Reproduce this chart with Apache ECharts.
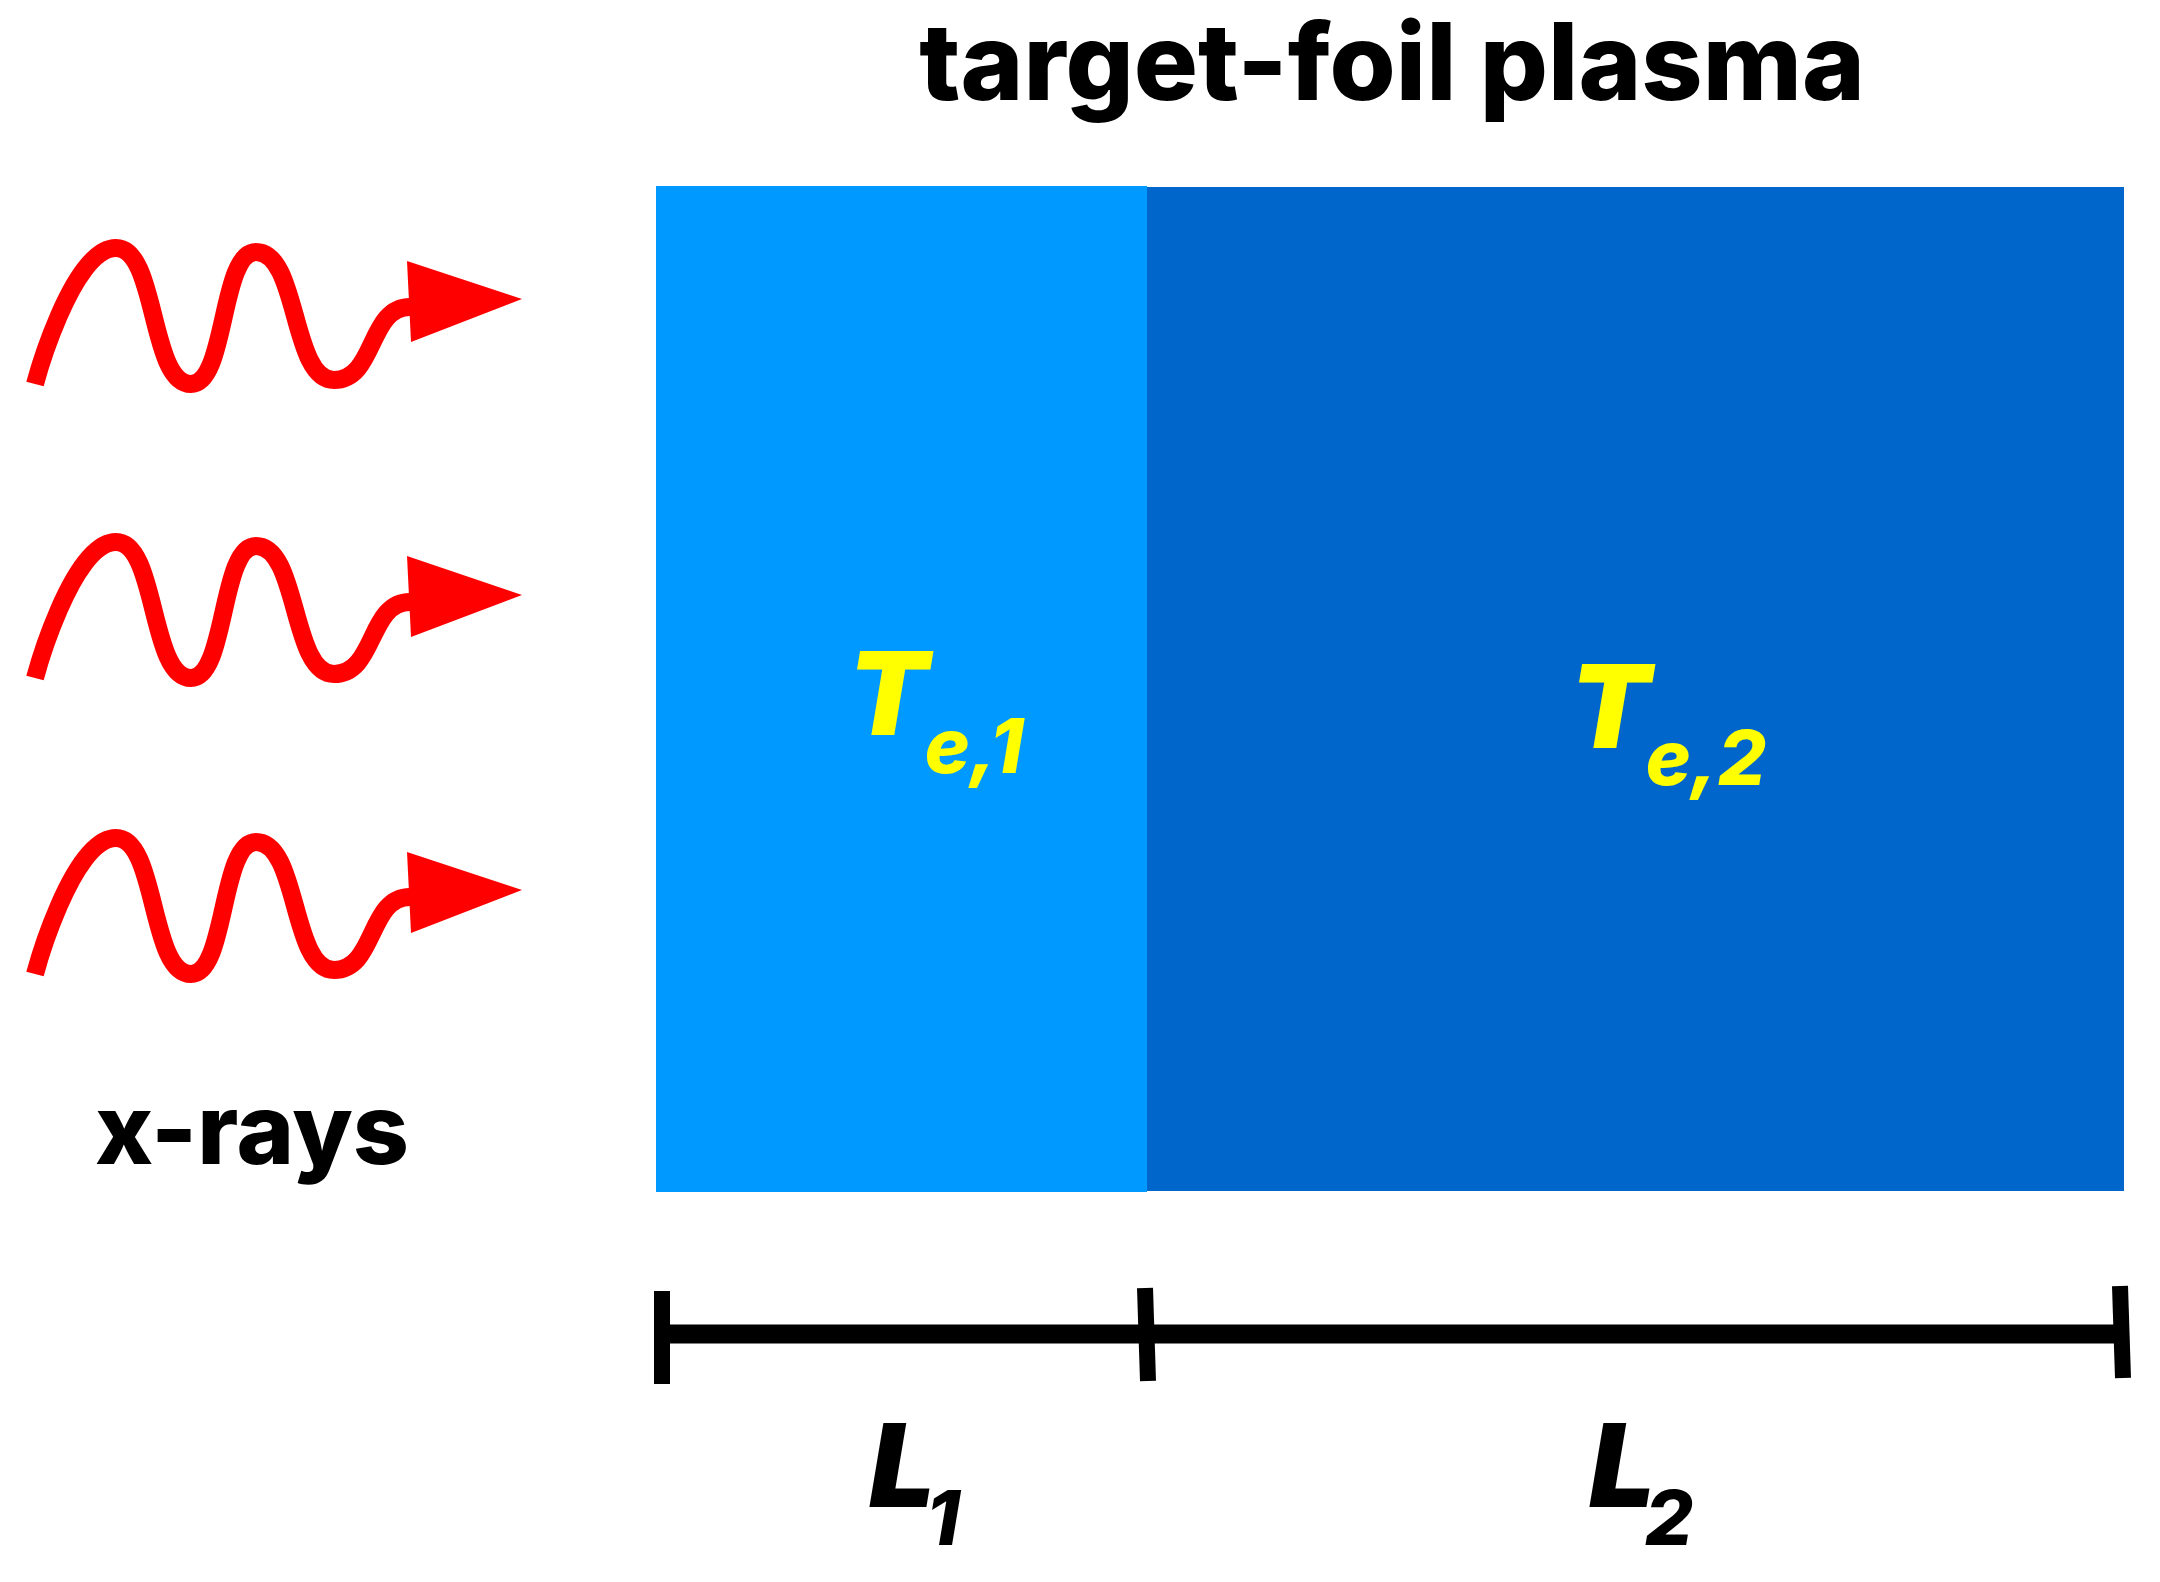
<!DOCTYPE html>
<html>
<head>
<meta charset="utf-8">
<script src="https://cdn.jsdelivr.net/npm/echarts@6/dist/echarts.min.js"></script>
<style>
  html, body { margin: 0; padding: 0; background: #fff; }
  #main { width: 2160px; height: 1582px; }
</style>
</head>
<body>
<div id="main"></div>
<script>
// wave x-ray lines: start, crests, troughs, shoulder, end (axis units = image pixels)
var waveX = [35, 116, 191, 256, 334, 410, 420];
var waveTop = [384, 248, 384, 252, 380, 307, 305];
var waveMid = [678, 542, 678, 546, 674, 602, 600];
var waveLow = [974, 838, 974, 842, 970, 897, 895];

// arrow heads: back top, tip, back bottom
var arrowX = [407, 522, 411];
var arrowTop = [261, 299, 342];
var arrowMid = [556, 595, 637];
var arrowLow = [852, 890, 933];

// plasma layers
var layerStart = [656, 1147];
var layerEnd = [1147, 2124];
var layerTop = [186, 187];
var layerBottom = [1192, 1191];
var layerColor = ['#0099ff', '#0066cc'];

// length scale bar
var barX = [664, 2122];
var barY = [1334, 1334];
var tickTopX = [662, 1145, 2120];
var tickBottomX = [662, 1148, 2123];
var tickTopY = [1291, 1288, 1286];
var tickBottomY = [1384, 1381, 1378];

// text labels
var labelText = ['target-foil plasma', 'x-rays', 'T', 'e,1', 'T', 'e,2', 'L', '1', 'L', '2'];
var labelX = [1392, 252, 888, 974, 1610, 1706, 902, 943, 1622, 1669];
var labelY = [68, 1135, 700, 750, 713, 762, 1472, 1522, 1472, 1522];
var labelColor = ['#000', '#000', '#ff0', '#ff0', '#ff0', '#ff0', '#000', '#000', '#000', '#000'];
var labelFont = [
  '800 107px Inter', '800 98px Inter',
  'italic 900 116px Inter', 'italic 800 76px Inter',
  'italic 900 116px Inter', 'italic 800 76px Inter',
  'italic 900 116px Inter', 'italic 800 76px Inter',
  'italic 900 116px Inter', 'italic 800 76px Inter'
];

function zip(xs, ys) {
  return xs.map(function (x, i) { return [x, ys[i]]; });
}

function waveSeries(ys) {
  return {
    type: 'line',
    data: zip(waveX, ys),
    smooth: 0.55,
    smoothMonotone: 'x',
    showSymbol: false,
    silent: true,
    lineStyle: { color: '#ff0000', width: 18, cap: 'butt', join: 'round' },
    z: 3
  };
}

function arrowSeries(ys) {
  return {
    type: 'custom',
    data: [0],
    silent: true,
    z: 4,
    renderItem: function (params, api) {
      return {
        type: 'polygon',
        shape: { points: zip(arrowX, ys).map(function (p) { return api.coord(p); }) },
        style: { fill: '#ff0000' }
      };
    }
  };
}

var chart = echarts.init(document.getElementById('main'));
chart.setOption({
  backgroundColor: '#ffffff',
  animation: false,
  grid: { left: 0, right: 0, top: 0, bottom: 0 },
  xAxis: { type: 'value', min: 0, max: 2160, show: false },
  yAxis: { type: 'value', min: 0, max: 1582, inverse: true, show: false },
  series: [
    {
      type: 'custom',
      silent: true,
      z: 1,
      data: layerStart.map(function (s, i) { return [s, layerEnd[i], layerTop[i], layerBottom[i], i]; }),
      renderItem: function (params, api) {
        var a = api.coord([api.value(0), api.value(2)]);
        var b = api.coord([api.value(1), api.value(3)]);
        return {
          type: 'rect',
          z2: 2 - api.value(4),
          shape: { x: a[0], y: a[1], width: b[0] - a[0], height: b[1] - a[1] },
          style: { fill: layerColor[api.value(4)] }
        };
      }
    },
    waveSeries(waveTop),
    waveSeries(waveMid),
    waveSeries(waveLow),
    arrowSeries(arrowTop),
    arrowSeries(arrowMid),
    arrowSeries(arrowLow),
    {
      type: 'line',
      data: zip(barX, barY),
      showSymbol: false,
      silent: true,
      lineStyle: { color: '#000', width: 19, cap: 'butt' },
      z: 3
    },
    {
      type: 'custom',
      silent: true,
      z: 3,
      data: tickTopX.map(function (x, i) { return [x, tickTopY[i], tickBottomX[i], tickBottomY[i]]; }),
      renderItem: function (params, api) {
        var a = api.coord([api.value(0), api.value(1)]);
        var b = api.coord([api.value(2), api.value(3)]);
        return {
          type: 'line',
          shape: { x1: a[0], y1: a[1], x2: b[0], y2: b[1] },
          style: { stroke: '#000', lineWidth: 16 }
        };
      }
    },
    {
      type: 'custom',
      silent: true,
      z: 5,
      data: labelX.map(function (x, i) { return [x, labelY[i], i]; }),
      renderItem: function (params, api) {
        var i = api.value(2);
        var p = api.coord([api.value(0), api.value(1)]);
        return {
          type: 'text',
          style: {
            x: p[0],
            y: p[1],
            text: labelText[i],
            fill: labelColor[i],
            font: labelFont[i],
            align: 'center',
            verticalAlign: 'middle'
          }
        };
      }
    }
  ]
});
</script>
</body>
</html>
